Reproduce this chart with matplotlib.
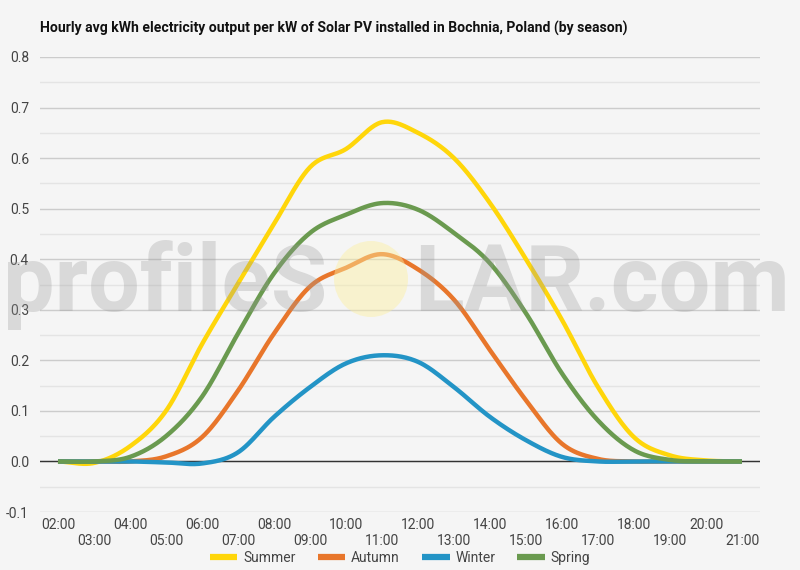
import numpy as np
import matplotlib
matplotlib.use("Agg")
import matplotlib.pyplot as plt
from matplotlib.patches import Ellipse
from matplotlib.ticker import MultipleLocator

hours = ["02:00", "03:00", "04:00", "05:00", "06:00", "07:00", "08:00", "09:00",
         "10:00", "11:00", "12:00", "13:00", "14:00", "15:00", "16:00", "17:00",
         "18:00", "19:00", "20:00", "21:00"]
summer = [0.0, -0.003, 0.03, 0.10, 0.232, 0.352, 0.47, 0.582, 0.618, 0.671,
          0.65, 0.60, 0.511, 0.40, 0.28, 0.147, 0.048, 0.012, 0.002, 0.0]
autumn = [0.0, 0.0, 0.0, 0.01, 0.048, 0.14, 0.253, 0.346, 0.383, 0.41,
          0.38, 0.32, 0.22, 0.121, 0.035, 0.005, 0.0, 0.0, 0.0, 0.0]
winter = [0.0, 0.0, 0.0, -0.002, -0.004, 0.018, 0.088, 0.147, 0.194, 0.21,
          0.197, 0.147, 0.088, 0.042, 0.009, 0.0, 0.0, 0.0, 0.0, 0.0]
spring = [0.0, 0.0, 0.009, 0.05, 0.128, 0.253, 0.372, 0.452, 0.488, 0.511,
          0.498, 0.452, 0.392, 0.293, 0.174, 0.081, 0.022, 0.003, 0.0, 0.0]
series_names = ["Summer", "Autumn", "Winter", "Spring"]
series_values = [summer, autumn, winter, spring]
colors = ["#FFD60A", "#E8762B", "#2394C6", "#6A9A4F"]


def catmull_rom(xs, ys, n=24):
    xs = np.asarray(xs, float)
    ys = np.asarray(ys, float)
    px = np.concatenate([[2 * xs[0] - xs[1]], xs, [2 * xs[-1] - xs[-2]]])
    py = np.concatenate([[ys[0]], ys, [ys[-1]]])
    ox, oy = [], []
    t = np.linspace(0, 1, n, endpoint=False)
    for i in range(1, len(px) - 2):
        p0, p1, p2, p3 = py[i - 1], py[i], py[i + 1], py[i + 2]
        x0, x1, x2, x3 = px[i - 1], px[i], px[i + 1], px[i + 2]
        t2, t3 = t * t, t * t * t
        oy.append(0.5 * ((2 * p1) + (-p0 + p2) * t + (2 * p0 - 5 * p1 + 4 * p2 - p3) * t2
                         + (-p0 + 3 * p1 - 3 * p2 + p3) * t3))
        ox.append(0.5 * ((2 * x1) + (-x0 + x2) * t + (2 * x0 - 5 * x1 + 4 * x2 - x3) * t2
                         + (-x0 + 3 * x1 - 3 * x2 + x3) * t3))
    ox.append([xs[-1]])
    oy.append([ys[-1]])
    return np.concatenate(ox), np.concatenate(oy)


plt.rcParams['font.family'] = ['Roboto', 'DejaVu Sans']
bg = "#F5F5F5"
fig = plt.figure(figsize=(8, 5.7), dpi=100, facecolor=bg)
ax = fig.add_axes([40 / 800, 1 - 512 / 570, 720 / 800, 455 / 570])
ax.set_facecolor(bg)

x = np.arange(len(hours))
for name, vals, c in zip(series_names, series_values, colors):
    sx, sy = catmull_rom(x, vals)
    ax.plot(sx, sy, color=c, lw=3.2, label=name, solid_capstyle='butt', zorder=3)

ax.set_xlim(-0.5, len(hours) - 0.5)
ax.set_ylim(-0.1, 0.8)
ax.yaxis.set_major_locator(MultipleLocator(0.1))
ax.yaxis.set_minor_locator(MultipleLocator(0.05))
ax.grid(which='major', axis='y', color='#CCCCCC', lw=1)
ax.grid(which='minor', axis='y', color='#E4E4E4', lw=1)
ax.set_axisbelow(True)
ax.axhline(0, color='#333333', lw=1, zorder=2)
for s in ['top', 'right', 'left', 'bottom']:
    ax.spines[s].set_visible(False)
ax.set_yticks(np.arange(-0.1, 0.81, 0.1))
ax.set_yticklabels([f"{v:.1f}" for v in np.arange(-0.1, 0.81, 0.1)])
ax.set_xticks(x)
ax.set_xticklabels([h if i % 2 == 0 else "\n" + h for i, h in enumerate(hours)])
ax.tick_params(axis='both', which='both', length=0, labelsize=10, labelcolor='#444444')
ax.tick_params(axis='x', pad=4)
ax.tick_params(axis='y', pad=8)

fig.text(40 / 800, 1 - 33 / 570, "Hourly avg kWh electricity output per kW of Solar PV installed in Bochnia, Poland (by season)",
         fontsize=10.05, fontweight='bold', color='#111111', ha='left', va='baseline')

leg = ax.legend(loc='center', bbox_to_anchor=(0.5, -(558 - 512) / 455), ncol=4, frameon=False,
                fontsize=10, handlelength=2.0, columnspacing=1.6, handletextpad=0.4,
                labelcolor='#444444')
for lh in leg.get_lines():
    lh.set_linewidth(4.5)

# watermark
fig.text(327 / 800, 1 - 311 / 570, "profileS", fontsize=66, fontweight='bold', color='#999999',
         alpha=0.3, ha='right', va='baseline', zorder=10)
fig.text(414 / 800, 1 - 311 / 570, "LAR.com", fontsize=66, fontweight='bold', color='#999999',
         alpha=0.3, ha='left', va='baseline', zorder=10)
fig.patches.append(Ellipse((371 / 800, 1 - 279 / 570), 74 / 800, 76 / 570,
                           transform=fig.transFigure, facecolor='#FCEFA0', alpha=0.45,
                           edgecolor='none', zorder=10))

fig.savefig("out.png", dpi=100, facecolor=bg)
